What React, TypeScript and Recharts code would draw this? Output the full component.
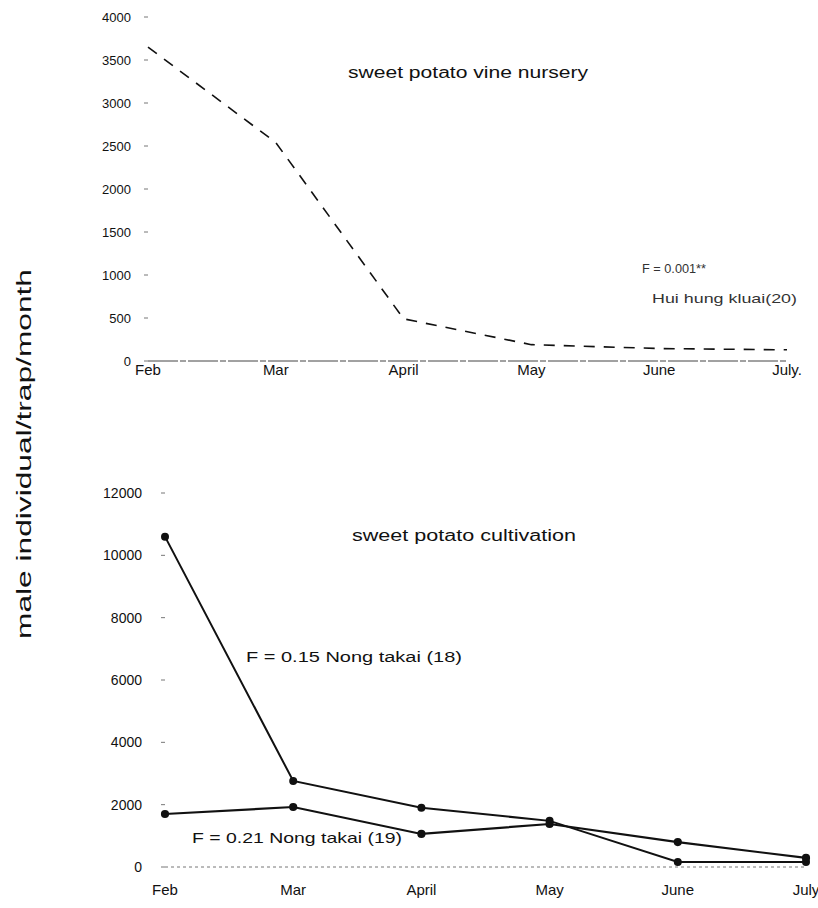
import React from "react";
import { LineChart, Line, XAxis, YAxis } from "recharts";

const months = ["Feb", "Mar", "April", "May", "June", "July"];
const topMonthLabels = ["Feb", "Mar", "April", "May", "June", "July."];
const huaiHungKluai20 = [3650, 2540, 490, 190, 145, 130];
const nongTakai18 = [10600, 2760, 1900, 1480, 160, 160];
const nongTakai19 = [1700, 1925, 1060, 1380, 800, 290];
const topTicks = [0, 500, 1000, 1500, 2000, 2500, 3000, 3500, 4000];
const bottomTicks = [0, 2000, 4000, 6000, 8000, 10000, 12000];

const topData = months.map((m, i) => ({
  month: topMonthLabels[i],
  hhk: huaiHungKluai20[i],
}));
const bottomData = months.map((m, i) => ({
  month: m,
  nt18: nongTakai18[i],
  nt19: nongTakai19[i],
}));

const font = "Arial, 'Liberation Sans', Helvetica, sans-serif";

export default function App() {
  return (
    <div
      style={{
        position: "absolute",
        left: 0,
        top: 0,
        width: 818,
        height: 908,
        background: "#fff",
        fontFamily: font,
      }}
    >
      <div style={{ position: "absolute", left: 0, top: 0 }}>
        <LineChart
          width={818}
          height={400}
          data={topData}
          margin={{ top: 17, right: 31, bottom: 9, left: 0 }}
        >
          <XAxis
            dataKey="month"
            height={30}
            tickLine={false}
            tickSize={0}
            tickMargin={3}
            axisLine={{ stroke: "#444", strokeWidth: 1, strokeDasharray: "30 2 6 2" }}
            tick={{ fill: "#111", fontSize: 15, fontFamily: font }}
            interval={0}
          />
          <YAxis
            width={148}
            domain={[0, 4000]}
            ticks={topTicks}
            axisLine={false}
            tickSize={4}
            tickMargin={13}
            tickLine={{ stroke: "#777" }}
            tick={{ fill: "#111", fontSize: 13, fontFamily: font }}
            interval={0}
          />
          <Line
            dataKey="hhk"
            type="linear"
            stroke="#111"
            strokeWidth={1.6}
            strokeDasharray="11 9"
            dot={false}
            isAnimationActive={false}
          />
        </LineChart>
      </div>

      <div style={{ position: "absolute", left: 0, top: 440 }}>
        <LineChart
          width={818}
          height={468}
          data={bottomData}
          margin={{ top: 53, right: 12, bottom: 11, left: 0 }}
        >
          <XAxis
            dataKey="month"
            height={30}
            tickLine={false}
            tickSize={0}
            tickMargin={17}
            axisLine={{ stroke: "#777", strokeWidth: 1, strokeDasharray: "3 3" }}
            tick={{ fill: "#111", fontSize: 15, fontFamily: font }}
            interval={0}
          />
          <YAxis
            width={165}
            domain={[0, 12000]}
            ticks={bottomTicks}
            axisLine={false}
            tickSize={4}
            tickMargin={19}
            tickLine={{ stroke: "#777" }}
            tick={{ fill: "#111", fontSize: 14, fontFamily: font }}
            interval={0}
          />
          <Line
            dataKey="nt18"
            type="linear"
            stroke="#111"
            strokeWidth={2}
            dot={{ r: 3, fill: "#111", stroke: "#111" }}
            isAnimationActive={false}
          />
          <Line
            dataKey="nt19"
            type="linear"
            stroke="#111"
            strokeWidth={2.2}
            dot={{ r: 3, fill: "#111", stroke: "#111" }}
            isAnimationActive={false}
          />
        </LineChart>
      </div>

      <svg
        width={818}
        height={908}
        style={{ position: "absolute", left: 0, top: 0, pointerEvents: "none" }}
        fontFamily={font}
      >
        <text
          x={31}
          y={454}
          transform="rotate(-90 31 454)"
          textAnchor="middle"
          fontSize={21}
          fill="#111"
          textLength={370}
          lengthAdjust="spacingAndGlyphs"
        >
          male individual/trap/month
        </text>
        <text x={348} y={78} fontSize={16} fill="#111" textLength={240} lengthAdjust="spacingAndGlyphs">
          sweet potato vine nursery
        </text>
        <text x={642} y={273} fontSize={13} fill="#333" textLength={64} lengthAdjust="spacingAndGlyphs">
          F = 0.001**
        </text>
        <text x={652} y={303} fontSize={13} fill="#333" textLength={145} lengthAdjust="spacingAndGlyphs">
          Hui hung kluai(20)
        </text>
        <text x={352} y={541} fontSize={16} fill="#111" textLength={224} lengthAdjust="spacingAndGlyphs">
          sweet potato cultivation
        </text>
        <text x={246} y={662} fontSize={14} fill="#111" textLength={216} lengthAdjust="spacingAndGlyphs">
          F = 0.15  Nong takai (18)
        </text>
        <text x={192} y={843} fontSize={15} fill="#111" textLength={210} lengthAdjust="spacingAndGlyphs">
          F = 0.21 Nong takai (19)
        </text>
      </svg>
    </div>
  );
}
